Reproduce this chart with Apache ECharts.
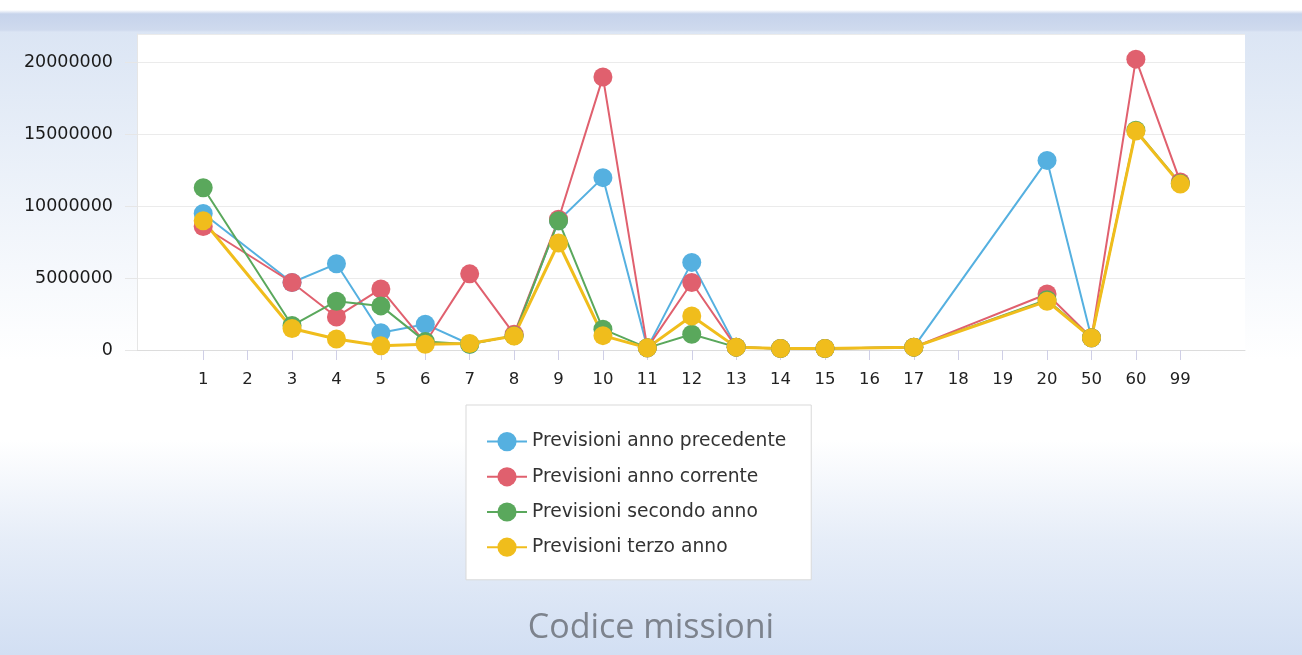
<!DOCTYPE html>
<html>
<head>
<meta charset="utf-8">
<script src="https://cdn.jsdelivr.net/npm/echarts@6/dist/echarts.min.js"></script>
<style>
  html, body { margin: 0; padding: 0; }
  #chart {
    width: 1302px; height: 655px;
    background:
      linear-gradient(to bottom, #ffffff 0px, #ffffff 10px, #c6d3eb 14px, #cfdaee 30px, rgba(255,255,255,0) 32px),
      linear-gradient(to bottom, rgba(255,255,255,0) 0px, rgba(255,255,255,0) 440px, #e6edf8 540px, #d2dff3 655px),
      linear-gradient(to bottom, #dbe5f4 30px, #eef3fa 200px, #ffffff 360px);
  }
</style>
</head>
<body>
<div id="chart"></div>
<script>
const categories = ['1','2','3','4','5','6','7','8','9','10','11','12','13','14','15','16','17','18','19','20','50','60','99'];
const seriesNames = ['Previsioni anno precedente', 'Previsioni anno corrente', 'Previsioni secondo anno', 'Previsioni terzo anno'];
const annoPrecedente = [9500000, null, 4700000, 6000000, 1200000, 1800000, 400000, 1000000, 9000000, 12000000, 150000, 6100000, 200000, 100000, 100000, null, 200000, null, null, 13200000, 850000, null, null];
const annoCorrente  = [8600000, null, 4700000, 2300000, 4250000, 500000, 5300000, 1100000, 9100000, 19000000, 150000, 4700000, 200000, 100000, 100000, null, 200000, null, null, 3900000, 850000, 20250000, 11700000];
const secondoAnno   = [11300000, null, 1700000, 3400000, 3070000, 600000, 400000, 1000000, 9000000, 1450000, 150000, 1100000, 200000, 100000, 100000, null, 200000, null, null, 3500000, 850000, 15300000, 11600000];
const terzoAnno     = [9000000, null, 1500000, 770000, 300000, 400000, 450000, 980000, 7450000, 1000000, 150000, 2370000, 200000, 100000, 100000, null, 200000, null, null, 3400000, 850000, 15250000, 11550000];
const yTicks = { min: 0, max: 22000000, interval: 5000000 };
const titleText = 'Codice missioni';

const colors = ['#55b0e0', '#e0606e', '#5aa85c', '#f0bd1c'];
const allData = [annoPrecedente, annoCorrente, secondoAnno, terzoAnno];

const chart = echarts.init(document.getElementById('chart'), null, { renderer: 'canvas' });
const option = {
  backgroundColor: 'transparent',
  animation: false,
  color: colors,
  title: {
    text: titleText,
    left: 'center',
    top: 606,
    textStyle: { fontFamily: 'Open Sans', fontSize: 34, fontWeight: 'normal', color: '#7d838d' }
  },
  legend: {
    orient: 'vertical',
    left: 466,
    top: 405,
    backgroundColor: '#ffffff',
    borderColor: '#d9d9d9',
    borderWidth: 1,
    padding: [27, 25, 23, 20],
    itemGap: 16,
    itemWidth: 40,
    itemHeight: 24,
    textStyle: { fontFamily: 'DejaVu Sans', fontSize: 18.7, color: '#333' },
    data: seriesNames
  },
  grid: [
    { left: 137, right: 57, top: 34, height: 316, show: true, backgroundColor: '#ffffff', borderWidth: 0 },
    { left: 181, right: 99.5, top: 34, height: 316 }
  ],
  xAxis: [
    { gridIndex: 0, type: 'value', min: 0, max: 1, show: true,
      axisLine: { show: true, lineStyle: { color: '#dcdcdc', width: 1 } },
      axisTick: { show: false }, axisLabel: { show: false }, splitLine: { show: false } },
    { gridIndex: 1, type: 'category', data: categories, boundaryGap: true,
      axisLine: { show: false },
      axisTick: { show: true, alignWithLabel: true, length: 10, lineStyle: { color: '#cfcfe6' } },
      axisLabel: { margin: 21, fontFamily: 'DejaVu Sans', fontSize: 16.5, color: '#222' },
      splitLine: { show: false } }
  ],
  yAxis: [
    { gridIndex: 0, type: 'value', min: yTicks.min, max: yTicks.max, interval: yTicks.interval,
      axisLine: { show: true, lineStyle: { color: '#e6e6e6' } },
      axisTick: { show: true, length: 12, lineStyle: { color: '#e6e6e6' } },
      axisLabel: { showMaxLabel: false, margin: 24, fontFamily: 'DejaVu Sans', fontSize: 17.5, color: '#1a1a1a',
        formatter: v => String(v) },
      splitLine: { show: true, lineStyle: { color: '#ebebeb' } } },
    { gridIndex: 1, type: 'value', min: yTicks.min, max: yTicks.max, interval: yTicks.interval, show: false,
      splitLine: { show: false } }
  ],
  series: allData.map((d, i) => ({
    name: seriesNames[i],
    type: 'line',
    xAxisIndex: 1,
    yAxisIndex: 1,
    data: d,
    connectNulls: true,
    symbol: 'circle',
    symbolSize: 19,
    clip: false,
    lineStyle: { width: i === 3 ? 3 : 2, color: colors[i] },
    itemStyle: { color: colors[i] }
  }))
};
chart.setOption(option);
</script>
</body>
</html>
